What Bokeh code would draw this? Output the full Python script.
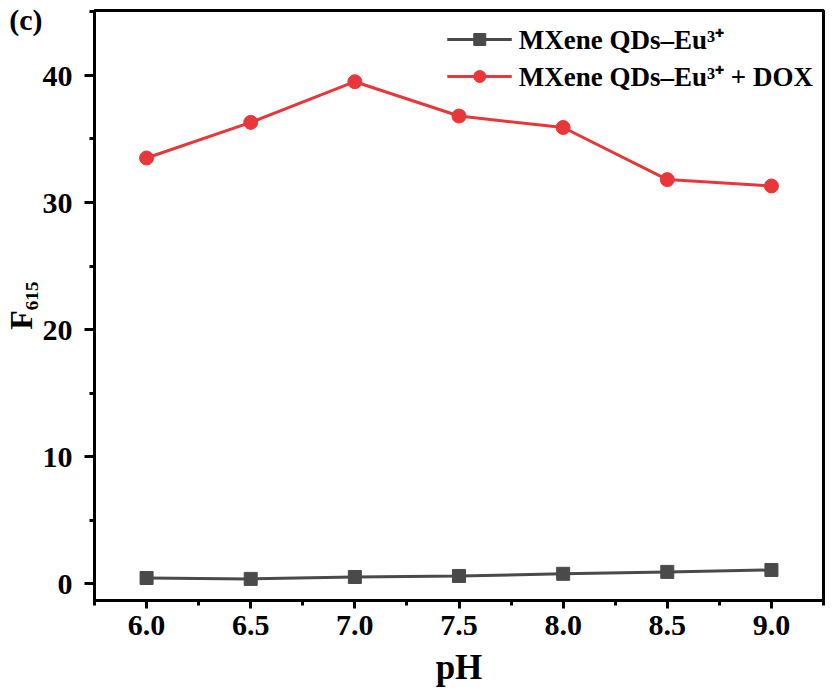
from bokeh.plotting import figure
from bokeh.models import Range1d, LinearAxis, FixedTicker
from bokeh.embed import file_html
from bokeh.resources import INLINE

ph = [6.0, 6.5, 7.0, 7.5, 8.0, 8.5, 9.0]
f_qds = [0.47, 0.40, 0.55, 0.63, 0.80, 0.95, 1.10]
f_dox = [33.5, 36.3, 39.5, 36.8, 35.9, 31.8, 31.3]
x_ticks = [6.0, 6.5, 7.0, 7.5, 8.0, 8.5, 9.0]
x_minor = [5.75, 6.25, 6.75, 7.25, 7.75, 8.25, 8.75, 9.25]
y_ticks = [0, 10, 20, 30, 40]
y_minor = [5, 15, 25, 35, 45]
label_qds = "MXene QDs\u2013Eu\u00b3\u207a"
label_dox = "MXene QDs\u2013Eu\u00b3\u207a + DOX"
y_title = "F\u2086\u2081\u2085"
x_title = "pH"
panel_tag = "(c)"
TAG_POS = 44.4  # height (in axis units) where the panel tag sits, beside the top of the axis

FONT = "Liberation Serif"
GRAY = "#4a4a4a"
RED = "#e8363a"

X0, X1 = 5.75, 9.25
Y0, Y1 = -1.3, 45.1

p = figure(width=825, height=690, output_backend="svg", toolbar_location=None,
           x_range=Range1d(X0, X1), y_range=Range1d(Y0, Y1),
           min_border_left=94, min_border_right=2, min_border_top=10, min_border_bottom=90)
p.grid.visible = False
p.background_fill_color = "white"
p.border_fill_color = "white"
p.outline_line_color = "black"
p.outline_line_width = 3

p.line(ph, f_qds, color=GRAY, line_width=3, legend_label=label_qds)
p.scatter(ph, f_qds, marker="square", size=13, color=GRAY, legend_label=label_qds)
p.line(ph, f_dox, color=RED, line_width=3, legend_label=label_dox)
p.scatter(ph, f_dox, marker="circle", size=14, color=RED, legend_label=label_dox)

def style_labels(ax):
    ax.major_label_text_font = FONT
    ax.major_label_text_font_style = "bold"
    ax.major_label_text_font_size = "30px"
    ax.major_label_text_color = "black"
    ax.axis_label_text_font = FONT
    ax.axis_label_text_font_style = "bold"
    ax.axis_label_text_color = "black"

# ---- x axis
xa = p.xaxis[0]
style_labels(xa)
xa.ticker = FixedTicker(ticks=x_ticks, minor_ticks=x_minor)
xa.axis_line_width = 3
xa.major_tick_line_width = 3
xa.minor_tick_line_width = 3
xa.major_tick_in = 0
xa.minor_tick_in = 0
xa.major_tick_out = 8
xa.minor_tick_out = 5
xa.major_label_standoff = 7
xa.major_label_overrides = {v: f"{v:.1f}" for v in x_ticks}
xa.axis_label = x_title
xa.axis_label_text_font_size = "35px"
xa.axis_label_standoff = 10

# ---- y axis: inner axis draws the line and tick marks only
ya_ticks = LinearAxis(ticker=FixedTicker(ticks=y_ticks, minor_ticks=y_minor))
ya_ticks.axis_line_width = 3
ya_ticks.major_tick_line_width = 3
ya_ticks.minor_tick_line_width = 3
ya_ticks.major_tick_in = 0
ya_ticks.minor_tick_in = 0
ya_ticks.major_tick_out = 10
ya_ticks.minor_tick_out = 5
ya_ticks.major_label_standoff = 0
ya_ticks.major_label_overrides = {v: "" for v in y_ticks}

# outer axis carries the tick labels, the panel tag and the axis title
ya = p.yaxis[0]
style_labels(ya)
ya.ticker = FixedTicker(ticks=y_ticks + [TAG_POS], minor_ticks=[])
ya.axis_line_color = None
ya.major_tick_line_color = None
ya.minor_tick_line_color = None
ya.major_tick_out = 0
ya.minor_tick_out = 0
ya.major_tick_in = 0
ya.minor_tick_in = 0
ya.major_label_standoff = 12
ya.major_label_overrides = {TAG_POS: panel_tag + "\u00a0" * 4}
ya.axis_label = y_title
ya.axis_label_text_font_size = "32px"
ya.axis_label_standoff = -33

p.left = [ya_ticks, ya]

lg = p.legend[0]
lg.location = "top_right"
lg.border_line_color = None
lg.background_fill_alpha = 0
lg.label_text_font = FONT
lg.label_text_font_style = "bold"
lg.label_text_font_size = "27px"
lg.label_text_color = "black"
lg.glyph_width = 65
lg.glyph_height = 30
lg.label_height = 30
lg.label_standoff = 7
lg.spacing = 0
lg.margin = 10
lg.padding = 13

open("out.html", "w").write(file_html(p, INLINE))
